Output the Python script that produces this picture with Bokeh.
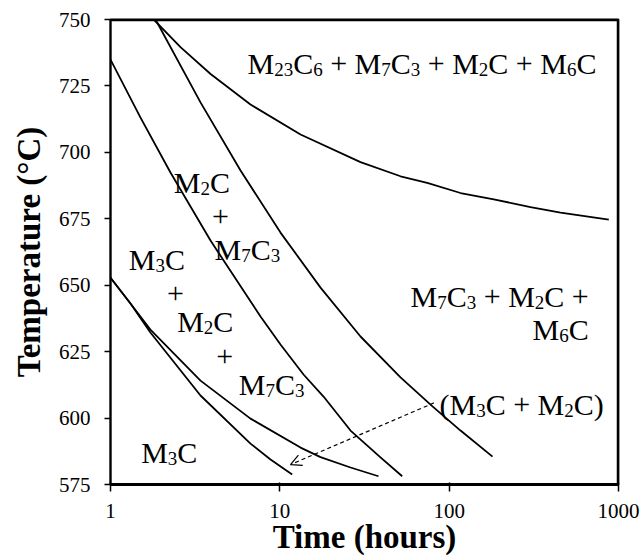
import re
from bokeh.plotting import figure
from bokeh.models import (Range1d, FixedTicker, NumeralTickFormatter, Arrow, OpenHead,
                          ColumnDataSource, Span)
from bokeh.core.properties import value
from bokeh.embed import file_html
from bokeh.resources import INLINE

FONT = "Liberation Serif"

# ---- data (time in hours, temperature in degC) ----
x_ticks = [1, 10, 100, 1000]
y_ticks = [575, 600, 625, 650, 675, 700, 725, 750]

c1_time = [1.80, 2.59, 3.90, 6.71, 13.25, 29.95, 51.6, 74.2, 116.7, 183.5, 302.2, 454.6, 876.6]
c1_temp = [750, 739.6, 729.5, 718.0, 706.7, 696.3, 691.0, 688.5, 684.7, 682.3, 679.4, 677.3, 674.7]

c2_time = [1.845, 3.40, 5.86, 10.09, 17.39, 29.95, 51.6, 79.7, 116.7, 180.3]
c2_temp = [750, 718.8, 693.2, 669.8, 649.1, 630.7, 615.3, 604.4, 595.3, 585.5]

c3_time = [1.0, 1.504, 2.26, 3.896, 7.69, 10.09, 13.80, 18.11, 26.15, 39.3, 52.8]
c3_temp = [734.9, 713.1, 692.4, 666.8, 638.2, 627.7, 616.4, 608.1, 595.3, 585.2, 578.1]

c4_time = [1.0, 1.312, 1.72, 3.40, 6.71, 13.25, 17.39, 26.15, 38.25]
c4_temp = [652.8, 643.1, 633.3, 614.1, 599.8, 588.9, 585.3, 581.4, 578.1]

c5_time = [1.0, 1.312, 1.72, 3.40, 6.71, 8.81, 11.83]
c5_temp = [652.8, 643.1, 632.2, 608.5, 590.4, 584.4, 578.8]

arrow_from = (81.2, 605.7)
arrow_to = (11.56, 582.5)

# region labels (digits are drawn as subscripts)
label_texts = ["M23C6 + M7C3 + M2C + M6C", "M7C3 + M2C +", "M6C", "(M3C + M2C)",
               "M2C", "+", "M7C3",
               "M3C", "+", "M2C", "+", "M7C3",
               "M3C"]
label_time = [6.44, 667.6, 667.6, 87.7,
              2.364, 4.46, 4.114,
              1.283, 2.42, 2.477, 4.73, 5.72,
              1.518]
label_temp = [733.5, 645.9, 633.3, 605.1,
              688.8, 675.7, 663.4,
              659.7, 646.8, 636.5, 623.2, 612.6,
              586.9]
label_align = ["left", "right", "right", "left",
               "left", "center", "left",
               "left", "center", "left", "center", "left",
               "left"]

# ---- styling ----
W, H = 642, 560
BL, BR, BT, BB = 110, 24, 19, 76
MAIN_SIZE = 30
SUB_SIZE = 19
SUB_DROP_PX = 6
ADV = {"M": 0.889, "C": 0.667, "+": 0.564, " ": 0.25, "(": 0.333, ")": 0.333}
deg_per_px = (750 - 575) / (H - BT - BB)


def adv(tok):
    if tok.isdigit():
        return 0.5 * SUB_SIZE * len(tok)
    return sum(ADV.get(ch, 0.5) for ch in tok) * MAIN_SIZE


main = dict(x=[], y=[], text=[], xo=[])
subs = dict(x=[], y=[], text=[], xo=[])
for txt, tx, ty, al in zip(label_texts, label_time, label_temp, label_align):
    toks = re.findall(r"\d+|[^\d\s]+|\s+", txt)
    total = sum(adv(t) for t in toks)
    if al == "right":
        pos = -total
    elif al == "center":
        pos = -total / 2
    else:
        pos = 0.0
    for t in toks:
        w = adv(t)
        if not t.isspace():
            if t.isdigit():
                subs["x"].append(tx)
                subs["y"].append(ty - SUB_DROP_PX * deg_per_px)
                subs["text"].append(t)
                subs["xo"].append(pos)
            else:
                main["x"].append(tx)
                main["y"].append(ty)
                main["text"].append(t)
                main["xo"].append(pos)
        pos += w

p = figure(width=W, height=H, x_axis_type="log",
           x_range=Range1d(1, 1000), y_range=Range1d(575, 750),
           output_backend="svg", toolbar_location=None,
           min_border_left=BL, min_border_right=BR, min_border_top=BT, min_border_bottom=BB)
p.grid.visible = False
p.outline_line_color = "black"
p.outline_line_width = 1.8
p.outline_line_alpha = 1.0
p.background_fill_color = "white"
p.border_fill_color = "white"

xa = p.xaxis[0]
xa.ticker = FixedTicker(ticks=x_ticks, minor_ticks=[])
xa.formatter = NumeralTickFormatter(format="0")
xa.axis_line_width = 3
xa.major_tick_in = 2
xa.major_tick_out = 7
xa.major_tick_line_width = 1.5
xa.minor_tick_line_color = None
xa.major_label_standoff = 12
xa.axis_label = "Time (hours)"
xa.axis_label_standoff = -2

ya = p.yaxis[0]
ya.ticker = FixedTicker(ticks=y_ticks, minor_ticks=[])
ya.axis_line_width = 2
ya.major_tick_in = 0
ya.major_tick_out = 6
ya.major_tick_line_width = 1.5
ya.minor_tick_line_color = None
ya.major_label_standoff = 14
ya.axis_label = "Temperature (°C)"
ya.axis_label_standoff = 9

for ax in (xa, ya):
    ax.axis_line_color = "black"
    ax.major_tick_line_color = "black"
    ax.major_label_text_font = FONT
    ax.major_label_text_font_size = "21px"
    ax.major_label_text_color = "black"
    ax.axis_label_text_font = FONT
    ax.axis_label_text_font_size = "33px"
    ax.axis_label_text_font_style = "bold"
    ax.axis_label_text_color = "black"

# plot-area border on top and right, at the range ends
p.add_layout(Span(location=p.y_range.end, dimension="width",
                  line_color="black", line_width=3.5))
p.add_layout(Span(location=p.x_range.end, dimension="height",
                  line_color="black", line_width=3.5))

for tt, TT in [(c1_time, c1_temp), (c2_time, c2_temp), (c3_time, c3_temp),
               (c4_time, c4_temp), (c5_time, c5_temp)]:
    p.line(tt, TT, line_color="black", line_width=1.8, line_join="round")

p.add_layout(Arrow(end=OpenHead(size=11, line_width=1.2, line_color="black"),
                   x_start=arrow_from[0], y_start=arrow_from[1],
                   x_end=arrow_to[0], y_end=arrow_to[1],
                   line_dash="4 3", line_width=1.2, line_color="black"))

p.text(x="x", y="y", text="text", x_offset="xo", source=ColumnDataSource(main),
       text_font=value(FONT), text_font_size=f"{MAIN_SIZE}px",
       text_baseline="alphabetic", text_align="left", text_color="black")
p.text(x="x", y="y", text="text", x_offset="xo", source=ColumnDataSource(subs),
       text_font=value(FONT), text_font_size=f"{SUB_SIZE}px",
       text_baseline="alphabetic", text_align="left", text_color="black")

open("out.html", "w").write(file_html(p, INLINE))
